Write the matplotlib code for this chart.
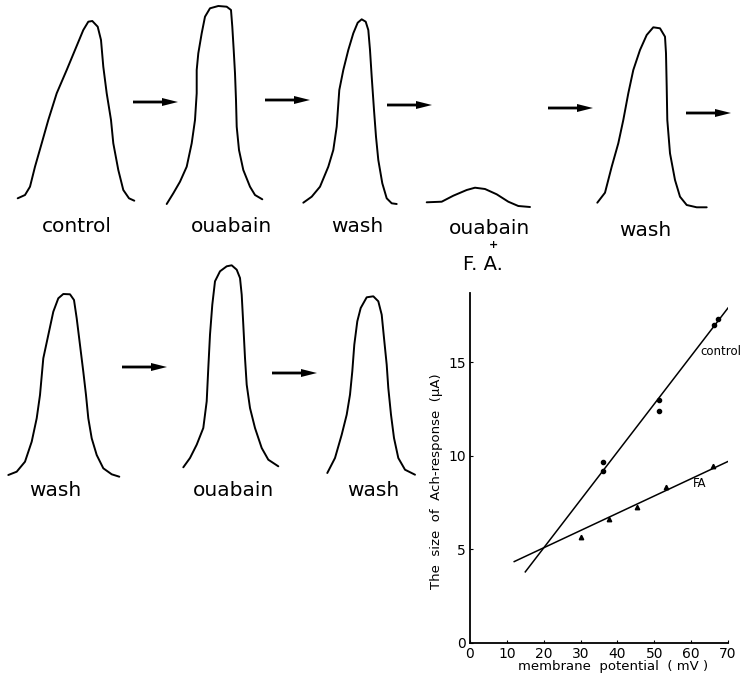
import matplotlib
matplotlib.use("Agg")
import matplotlib.pyplot as plt
import numpy as np

plt.rcParams['font.family'] = ['DejaVu Sans']

# ---- Ach-response size vs membrane potential ----
control_mv = [36.1, 36.1, 51.2, 51.3, 66.3, 67.4]
control_ua = [9.65, 9.2, 13.0, 12.4, 17.0, 17.3]
fa_mv = [30.2, 37.6, 45.3, 53.2, 66.0]
fa_ua = [5.64, 6.6, 7.28, 8.31, 9.45]
# hand-fitted regression lines (end points)
control_fit_mv = [15.0, 70.0]
control_fit_ua = [3.8, 17.9]
fa_fit_mv = [12.0, 70.0]
fa_fit_ua = [4.35, 9.7]
x_ticks = [0, 10, 20, 30, 40, 50, 60, 70]
y_ticks = [0, 5, 10, 15]

# ---- response traces: time and amplitude, relative to trace onset ----
ctrl_t = [-0.3, 7, 12, 17, 23.7, 30.3, 38.7, 48.7, 57, 65.3, 70.3, 74.3, 79.7, 83, 85.3, 88.7, 93, 95.3, 100.3, 105.3, 111, 116.3]
ctrl_v = [-0.3, 3, 11.3, 31.3, 54.7, 78, 104.7, 128, 148, 168, 176.3, 177, 171.3, 158, 131.3, 104.7, 78, 54.7, 28, 8, -0.3, -2.7]

ouab1_t = [-0.3, 6.3, 13, 19.7, 24.7, 28, 29.7, 29.7, 31.3, 34.7, 38, 43, 51.3, 59.7, 64, 65.3, 66.7, 68, 69, 69.7, 72, 76.3, 83, 88, 95.3]
ouab1_v = [0, 10.7, 22.3, 37.3, 60.7, 84, 110.7, 134, 150.7, 170.7, 187.3, 195.7, 198, 197.3, 194, 177.3, 154, 130.7, 104, 77.3, 54, 34, 17.3, 9, 4.7]

wash1_t = [0.3, 8.7, 17, 25.3, 30.3, 33.7, 36.3, 40.3, 45.3, 50.3, 54.7, 58.7, 62.7, 65.3, 67, 68.7, 71, 73, 75.3, 79.3, 83.7, 88.7, 93.7]
wash1_v = [0.3, 6.3, 16.3, 36.3, 53, 76.3, 113, 133, 153, 169.7, 180.3, 183.7, 181.3, 173, 153, 126.3, 93, 66.3, 43, 19.7, 4.7, -0.3, -1]

ouabfa_t = [-0.3, 14.7, 26.3, 39.7, 48, 58, 69.7, 81.3, 91.3, 103]
ouabfa_v = [-0.3, 0.3, 6.3, 12, 14.3, 13, 7.7, 0.3, -4, -5]

wash2_t = [0.3, 8, 14.7, 21.3, 26.3, 31.3, 36.3, 43, 49.7, 56.3, 63, 68, 69, 69.7, 70.3, 73, 78, 83, 89.7, 99.7, 109.7]
wash2_v = [0.3, 10.3, 36.3, 59.7, 83, 109.7, 133, 153, 168, 175.7, 174.7, 166.3, 149.7, 116.3, 83, 49.7, 23, 6.3, -2, -4.3, -4.3]

wash3_t = [0.3, 8.7, 17, 23.7, 28.7, 32, 35.3, 40.3, 45.3, 50.3, 55.3, 62, 66, 68.7, 72, 75.3, 78, 80.3, 83.7, 88.7, 95.3, 103.7, 111.3]
wash3_v = [0, 3.3, 13.3, 33.3, 56.7, 80, 116.7, 140, 163.3, 176.7, 181, 180.7, 175, 156.7, 130, 103.3, 80, 56.7, 36.7, 20, 6.7, 0.7, -1.7]

ouab2_t = [0.3, 7, 13.7, 20.3, 23.7, 25.3, 27, 29.3, 32, 37, 43.7, 48.7, 53.7, 57, 58.7, 60.3, 62, 63.7, 67, 72, 78.7, 85.3, 95.3]
ouab2_v = [-0.3, 9, 22.3, 39, 65.7, 99, 132.3, 162.3, 185.7, 195.7, 200.7, 201.7, 197.3, 189, 172.3, 142.3, 109, 82.3, 59, 39, 19, 7.3, 0.7]

wash4_t = [0.3, 8, 14.7, 19.7, 23, 25.3, 27.3, 30.3, 33.7, 39.7, 46.3, 51.3, 54.7, 57, 59.7, 61.3, 64, 67, 71.3, 78, 88]
wash4_v = [0, 15, 38.3, 58.3, 78.3, 101.7, 128.3, 151.7, 165, 175.7, 176.7, 171.7, 158.3, 135, 108.3, 85, 58.3, 35, 15, 3.3, -1.7]

trace_labels = ["control", "ouabain", "wash", "ouabain", "wash", "wash", "ouabain", "wash"]

W, H = 740, 686
fig = plt.figure(figsize=(W / 100, H / 100), dpi=100)

# overlay canvas in pixel units for the trace panel
canvas = fig.add_axes([0, 0, 1, 1])
canvas.set_xlim(0, W)
canvas.set_ylim(H, 0)
canvas.axis("off")

traces = [(ctrl_t, ctrl_v), (ouab1_t, ouab1_v), (wash1_t, wash1_v),
          (ouabfa_t, ouabfa_v), (wash2_t, wash2_v),
          (wash3_t, wash3_v), (ouab2_t, ouab2_v), (wash4_t, wash4_v)]
onsets = [(18, 198), (167, 204), (303, 203), (427, 202), (597, 203),
          (8, 475), (183, 467), (327, 473)]
label_pos = [(77, 226), (232, 226), (357, 226), (490, 229), (645, 231),
             (55, 490), (233, 490), (373, 490)]

for (t, v), (x0, y0) in zip(traces, onsets):
    canvas.plot(np.asarray(t) + x0, y0 - np.asarray(v), color="black",
                lw=1.4, solid_joinstyle="round", solid_capstyle="round")

for txt, (lx, ly) in zip(trace_labels, label_pos):
    canvas.text(lx, ly, txt, ha="center", va="center", fontsize=14.5)

canvas.text(493, 245, "+", ha="center", va="center", fontsize=8, fontweight="bold")
canvas.text(483, 264, "F. A.", ha="center", va="center", fontsize=14)

arrows = [(133, 102), (265, 100), (387, 105), (548, 108), (686, 113),
          (122, 367), (272, 373)]
for ax0, ay0 in arrows:
    canvas.arrow(ax0, ay0, 45, 0, width=2.8, head_width=8, head_length=16,
                 length_includes_head=True, color="black", lw=0)

# ---- graph ----
ax = fig.add_axes([470 / W, 1 - 643 / H, 258 / W, 350 / H])
ax.plot(control_fit_mv, control_fit_ua, color="black", lw=1.1)
ax.plot(fa_fit_mv, fa_fit_ua, color="black", lw=1.1)
ax.plot(control_mv, control_ua, "o", color="black", ms=3)
ax.plot(fa_mv, fa_ua, "^", color="black", ms=3.2)
ax.set_xlim(0, 70)
ax.set_ylim(0, 18.7)
ax.set_xticks(x_ticks)
ax.set_yticks(y_ticks)
ax.tick_params(direction="in", length=2, labelsize=10, pad=3)
for side in ("top", "right"):
    ax.spines[side].set_visible(False)
for side in ("left", "bottom"):
    ax.spines[side].set_linewidth(1.3)
ax.patch.set_alpha(0)

ax.text(62.4, 15.6, "control", fontsize=8.5, va="center", ha="left")
ax.text(60.5, 8.5, "FA", fontsize=8.5, va="center", ha="left")

ax.set_ylabel("The  size  of  Ach-response  (μA)", fontsize=9.5)
ax.yaxis.set_label_coords(-0.105, 0.461)
ax.set_xlabel("membrane  potential  ( mV )", fontsize=9.5)
ax.xaxis.set_label_coords(0.554, -0.048)

fig.savefig("out.png", dpi=100)
